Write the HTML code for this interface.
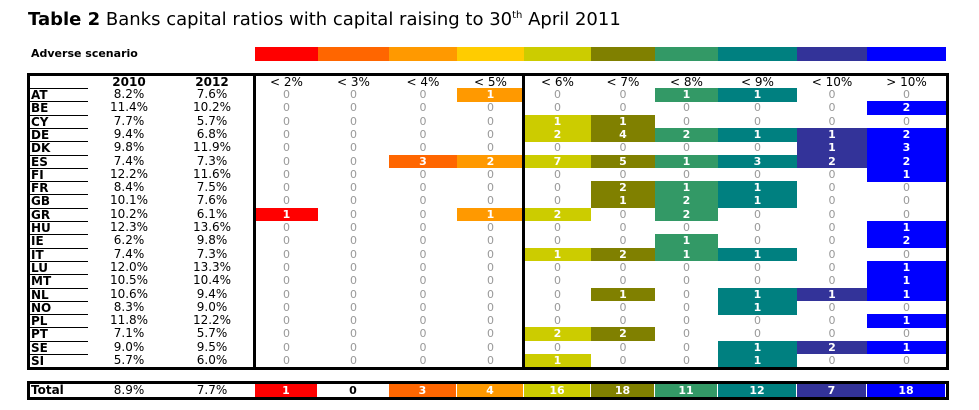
<!DOCTYPE html>
<html><head><meta charset="utf-8"><style>
body{margin:0;width:979px;height:410px;background:#fff;position:relative;overflow:hidden;font-family:"DejaVu Sans","Liberation Sans",sans-serif;}
.a{position:absolute;box-sizing:border-box;}
.c{position:absolute;box-sizing:border-box;text-align:center;font-size:11px;line-height:13px;white-space:nowrap;}
</style></head><body>
<div class="a" style="left:28px;top:4px;font-size:18px;white-space:nowrap;line-height:24px"><b>Table 2</b> Banks capital ratios with capital raising to 30<sup style="font-size:10px">th</sup> April 2011</div>
<div class="a" style="left:31px;top:47px;font-size:11px;font-weight:bold">Adverse scenario</div>
<div id="root"></div>
<script>
const countries=["AT","BE","CY","DE","DK","ES","FI","FR","GB","GR","HU","IE","IT","LU","MT","NL","NO","PL","PT","SE","SI"];
const r2010=["8.2%","11.4%","7.7%","9.4%","9.8%","7.4%","12.2%","8.4%","10.1%","10.2%","12.3%","6.2%","7.4%","12.0%","10.5%","10.6%","8.3%","11.8%","7.1%","9.0%","5.7%"];
const r2012=["7.6%","10.2%","5.7%","6.8%","11.9%","7.3%","11.6%","7.5%","7.6%","6.1%","13.6%","9.8%","7.3%","13.3%","10.4%","9.4%","9.0%","12.2%","5.7%","9.5%","6.0%"];
const buckets=["< 2%","< 3%","< 4%","< 5%","< 6%","< 7%","< 8%","< 9%","< 10%","> 10%"];
const counts=[
[0,0,0,1,0,0,1,1,0,0],[0,0,0,0,0,0,0,0,0,2],[0,0,0,0,1,1,0,0,0,0],[0,0,0,0,2,4,2,1,1,2],
[0,0,0,0,0,0,0,0,1,3],[0,0,3,2,7,5,1,3,2,2],[0,0,0,0,0,0,0,0,0,1],[0,0,0,0,0,2,1,1,0,0],
[0,0,0,0,0,1,2,1,0,0],[1,0,0,1,2,0,2,0,0,0],[0,0,0,0,0,0,0,0,0,1],[0,0,0,0,0,0,1,0,0,2],
[0,0,0,0,1,2,1,1,0,0],[0,0,0,0,0,0,0,0,0,1],[0,0,0,0,0,0,0,0,0,1],[0,0,0,0,0,1,0,1,1,1],
[0,0,0,0,0,0,0,1,0,0],[0,0,0,0,0,0,0,0,0,1],[0,0,0,0,2,2,0,0,0,0],[0,0,0,0,0,0,0,1,2,1],
[0,0,0,0,1,0,0,1,0,0]];
const totalLabel=["8.9%","7.7%"];
const colors=["#ff0000","#ff6600","#ff9900","#ffcc00","#cccc00","#808000","#339966","#008080","#333399","#0000ff"];
const cellColors=["#ff0000","#ff6600","#ff6600","#ff9900","#cccc00","#808000","#339966","#008080","#333399","#0000ff"];
const edges=[255,318,389,457,524,591,655,718,797,867,946];
const root=document.getElementById('root');
function el(cls,x,y,w,h,css,txt){const d=document.createElement('div');d.className=cls;d.style.cssText=`left:${x}px;top:${y}px;width:${w}px;height:${h}px;`+(css||'');if(txt!==undefined)d.textContent=txt;root.appendChild(d);return d;}
for(let i=0;i<10;i++){
 const d=el('a',edges[i],47,edges[i+1]-edges[i],14,'background:'+colors[i]);
 
 
}
const top0=76,hh=12,rh=13.3,y0=88;
const heads=[["",30,88],["2010",88,170],["2012",170,254]];
heads.forEach(h=>{const d=el('c',h[1],top0,h[2]-h[1],hh,'font-weight:bold;font-size:12px;line-height:12px',h[0]);
 
 });
buckets.forEach((b,i)=>{const d=el('c',edges[i],top0,edges[i+1]-edges[i],hh,'font-size:12px;line-height:12px',b);
 
 });
countries.forEach((c,r)=>{
 const y=y0+r*rh;
 let d=el('c',30,y,58,rh,'text-align:left;font-weight:bold;font-size:12px;line-height:13px;padding-left:1px;border-top:1px solid #000',c);
 
 
 d=el('c',88,y,82,rh,'font-size:12px',r2010[r]);
 
 
 d=el('c',170,y,84,rh,'font-size:12px',r2012[r]);
 
 
 counts[r].forEach((v,i)=>{
  const css=v>0?`background:${cellColors[i]};color:#fff;font-weight:bold;`:'color:#999;';
  const cell=el('c',edges[i],y,edges[i+1]-edges[i],rh+0.5,css,String(v));
  
  
 });
});
const bottom=y0+countries.length*rh;
let b=el('a',27,73,922,bottom-73+3,'border:3px solid #000');


[253,522].forEach(x=>{const v=el('a',x,73,3,bottom-73+3,'background:#000');
 
 });
const ty=384;
let t=el('c',30,ty,58,13,'text-align:left;font-weight:bold;font-size:12px;padding-left:1px','Total');


t=el('c',88,ty,82,13,'font-size:12px',totalLabel[0]);


t=el('c',170,ty,84,13,'font-size:12px',totalLabel[1]);


buckets.forEach((bk,i)=>{
 let s=0;counts.forEach(r=>s+=r[i]);
 const css=s>0?`background:${cellColors[i]};color:#fff;font-weight:bold;`:'color:#000;font-weight:bold;';
 const cell=el('c',edges[i],ty,edges[i+1]-edges[i]-1,13,css,String(s));
 
 
});
b=el('a',27,381,922,19,'border:3px solid #000');


</script>
</body></html>
